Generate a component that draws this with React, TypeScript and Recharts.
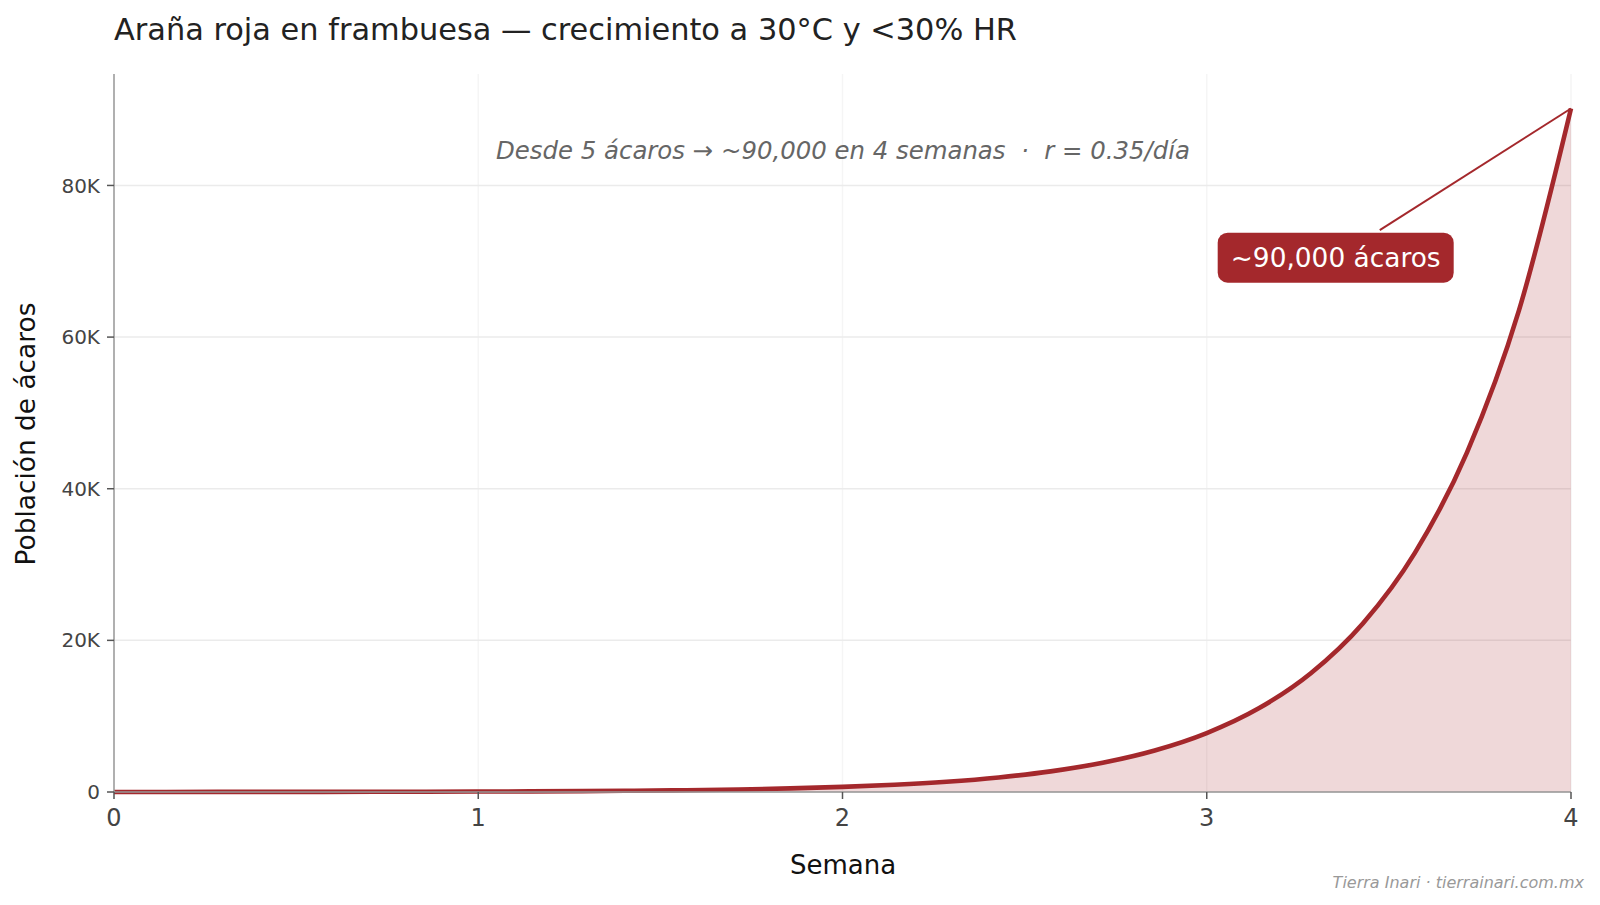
import React from 'react';
import { AreaChart, Area, XAxis, YAxis, CartesianGrid, ReferenceLine, ReferenceDot } from 'recharts';

// Days since infestation start (0..28) and mite counts
const days: number[] = [0,1,2,3,4,5,6,7,8,9,10,11,12,13,14,15,16,17,18,19,20,21,22,23,24,25,26,27,28];
const mites: number[] = [5,7,10,14,20,29,41,58,82,117,166,235,333,473,671,953,1352,1918,2722,3863,5482,7779,11039,15665,22230,31546,44766,63527,90150];

const xTicks: number[] = [0, 1, 2, 3, 4];
const yTicks: number[] = [0, 20000, 40000, 60000, 80000];

const titleText = 'Araña roja en frambuesa — crecimiento a 30°C y <30% HR';
const subtitleText = 'Desde 5 ácaros → ~90,000 en 4 semanas  ·  r = 0.35/día';
const xLabel = 'Semana';
const yLabel = 'Población de ácaros';
const calloutText = '~90,000 ácaros';
const creditText = 'Tierra Inari · tierrainari.com.mx';

// annotation anchors (data coordinates)
const calloutTip = { week: 4, value: 90150 };
const calloutTail = { week: 3.475, value: 74100 };
const calloutBox = { week: 3.354, value: 70480 };

const data = days.map((d, i) => ({ week: d / 7, value: mites[i] }));

const RED = '#A4282C';
const FONT = 'DejaVu Sans, sans-serif';

const CalloutShape = (props: any) => {
  const { cx, cy } = props;
  const w = 236;
  const h = 50;
  return (
    <g>
      <rect x={cx - w / 2} y={cy - h / 2} width={w} height={h} rx={10} ry={10} fill={RED} />
      <text x={cx} y={cy + 9.5} textAnchor="middle" fill="#ffffff" fontSize={26.4} fontFamily={FONT}>
        {calloutText}
      </text>
    </g>
  );
};

export default function App() {
  return (
    <div style={{ position: 'absolute', left: 0, top: 0, width: 1600, height: 905, background: '#fff' }}>
      <AreaChart
        width={1600}
        height={905}
        data={data}
        margin={{ top: 74, right: 29, bottom: 63, left: 34 }}
      >
        <CartesianGrid stroke="#f5f5f5" strokeWidth={1.5} horizontal={false} syncWithTicks />
        <CartesianGrid stroke="#ebebeb" strokeWidth={1.5} vertical={false} syncWithTicks />
        <XAxis
          dataKey="week"
          type="number"
          domain={[0, 4]}
          ticks={xTicks}
          height={50}
          stroke="#999999"
          strokeWidth={1.5}
          tickSize={7}
          tickMargin={10}
          tick={{ fill: '#444444', fontSize: 24, fontFamily: FONT }}
          tickLine={{ stroke: '#555555' }}
        />
        <YAxis
          type="number"
          domain={[0, 94700]}
          ticks={yTicks}
          width={80}
          stroke="#999999"
          strokeWidth={1.5}
          tickSize={7}
          tickMargin={7}
          tick={{ fill: '#444444', fontSize: 20, fontFamily: FONT }}
          tickLine={{ stroke: '#555555' }}
          tickFormatter={(v: number) => (v === 0 ? '0' : `${v / 1000}K`)}
        />
        <Area
          type="monotone"
          dataKey="value"
          stroke={RED}
          strokeWidth={4.6}
          fill={RED}
          fillOpacity={0.18}
          isAnimationActive={false}
          dot={false}
          activeDot={false}
        />
        <ReferenceLine
          segment={[
            { x: calloutTail.week, y: calloutTail.value },
            { x: calloutTip.week, y: calloutTip.value },
          ]}
          stroke={RED}
          strokeWidth={2}
          ifOverflow="visible"
        />
        <ReferenceDot
          x={calloutBox.week}
          y={calloutBox.value}
          r={0}
          ifOverflow="visible"
          shape={CalloutShape}
        />
      </AreaChart>
      <svg
        width={1600}
        height={905}
        style={{ position: 'absolute', left: 0, top: 0, pointerEvents: 'none' }}
      >
        <text x={114} y={40} fontSize={30.4} fill="#222222" fontFamily={FONT}>
          {titleText}
        </text>
        <text x={843} y={159} fontSize={24.4} fill="#666666" fontStyle="italic" textAnchor="middle" fontFamily={FONT} xmlSpace="preserve" style={{ whiteSpace: 'pre' }}>
          {subtitleText}
        </text>
        <text x={843} y={874} fontSize={26} fill="#111111" textAnchor="middle" fontFamily={FONT}>
          {xLabel}
        </text>
        <text
          x={35}
          y={434}
          fontSize={26.4}
          fill="#111111"
          textAnchor="middle"
          fontFamily={FONT}
          transform="rotate(-90 35 434)"
        >
          {yLabel}
        </text>
        <text x={1584} y={888} fontSize={16} fill="#999999" fontStyle="italic" textAnchor="end" fontFamily={FONT}>
          {creditText}
        </text>
      </svg>
    </div>
  );
}
